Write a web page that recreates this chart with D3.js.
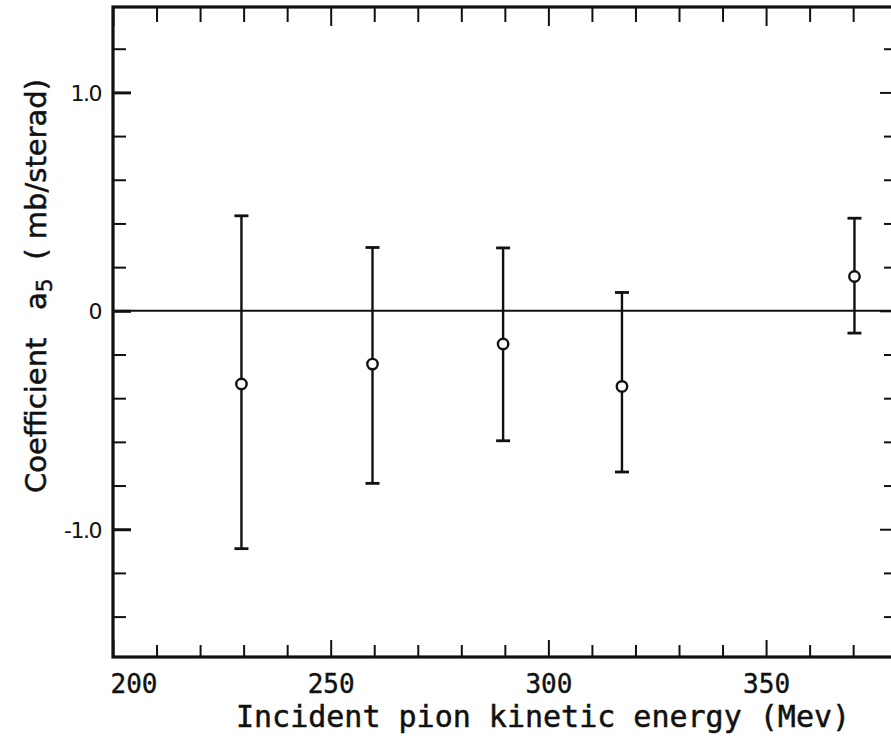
<!DOCTYPE html>
<html>
<head>
<meta charset="utf-8">
<script src="https://cdn.jsdelivr.net/npm/d3@7"></script>
<style>
  html, body { margin: 0; padding: 0; background: #fff; }
  svg { display: block; }
  text { fill: #111; }
</style>
</head>
<body>
<svg id="chart" width="891" height="741"></svg>
<script>
// ---- data ----
const energies = [229.5, 259.6, 289.6, 316.9, 370.3];
const coeffs   = [-0.335, -0.244, -0.152, -0.346, 0.157];
const errHigh  = [0.435, 0.290, 0.288, 0.084, 0.424];
const errLow   = [-1.089, -0.790, -0.595, -0.738, -0.102];

const xMajorTicks = [200, 250, 300, 350];
const xTickLabels = ["200", "250", "300", "350"];
const yMajorTicks = [-1, 0, 1];
const yTickLabels = ["-1.0", "0", "1.0"];
const xMinorTicks = d3.range(200, 381, 10);
const yMinorTicks = [-1.4, -1.2, -1.0, -0.8, -0.6, -0.4, -0.2, 0, 0.2, 0.4, 0.6, 0.8, 1.0, 1.2];

const xTitle = "Incident pion kinetic energy (Mev)";

// ---- layout ----
const svg = d3.select("#chart");
const pL = 113, pR = 898, pT = 7, pB = 657;
const x = d3.scaleLinear().domain([200, 380.3]).range([pL, pR]);
const y = d3.scaleLinear().domain([-1.585, 1.391]).range([pB, pT]);
const ink = "#111";

// frame
svg.append("rect").attr("x", pL).attr("y", pT)
  .attr("width", pR - pL).attr("height", pB - pT)
  .attr("fill", "none").attr("stroke", ink).attr("stroke-width", 3.2);

// zero line
svg.append("line").attr("x1", pL).attr("x2", pR)
  .attr("y1", y(0)).attr("y2", y(0))
  .attr("stroke", ink).attr("stroke-width", 2);

const isMajorX = v => v % 50 === 0;
const isMajorY = v => Math.abs(v - Math.round(v)) < 1e-6;

// bottom axis ticks (inward)
const gB = svg.append("g").attr("transform", `translate(0,${pB})`)
  .call(d3.axisBottom(x).tickValues(xMinorTicks).tickSizeInner(0).tickSizeOuter(0).tickFormat(""));
gB.select(".domain").remove();
gB.selectAll(".tick line").attr("y2", d => isMajorX(d) ? -17 : -12).attr("stroke", ink).attr("stroke-width", 2);

// top axis ticks (inward)
const gT = svg.append("g").attr("transform", `translate(0,${pT})`)
  .call(d3.axisTop(x).tickValues(xMinorTicks).tickSizeInner(0).tickSizeOuter(0).tickFormat(""));
gT.select(".domain").remove();
gT.selectAll(".tick line").attr("y2", d => isMajorX(d) ? 19 : 15).attr("stroke", ink).attr("stroke-width", 2);

// left axis ticks (inward)
const gL = svg.append("g").attr("transform", `translate(${pL},0)`)
  .call(d3.axisLeft(y).tickValues(yMinorTicks).tickSizeInner(0).tickSizeOuter(0).tickFormat(""));
gL.select(".domain").remove();
gL.selectAll(".tick line").attr("x2", d => isMajorY(d) ? 18 : 13).attr("stroke", ink).attr("stroke-width", d => isMajorY(d) ? 3 : 2);

// right axis ticks (inward)
const gR = svg.append("g").attr("transform", `translate(${pR},0)`)
  .call(d3.axisRight(y).tickValues(yMinorTicks).tickSizeInner(0).tickSizeOuter(0).tickFormat(""));
gR.select(".domain").remove();
gR.selectAll(".tick line").attr("x2", d => isMajorY(d) ? -18 : -14).attr("stroke", ink).attr("stroke-width", 2);

// x tick labels
const gXL = svg.append("g").attr("transform", `translate(0,${pB})`)
  .call(d3.axisBottom(x).tickValues(xMajorTicks).tickSize(0)
    .tickFormat((d, i) => xTickLabels[i]));
gXL.select(".domain").remove();
gXL.selectAll(".tick text")
  .attr("font-family", "'DejaVu Sans Mono', monospace")
  .attr("font-size", 26).attr("dy", 0).attr("y", 36)
  .attr("text-anchor", (d, i) => i === 0 ? "start" : "middle")
  .attr("dx", (d, i) => i === 0 ? -3 : 0)
  .attr("stroke", ink).attr("stroke-width", 0.4)
  .style("fill", ink);

// y tick labels
const gYL = svg.append("g").attr("transform", `translate(${pL},0)`)
  .call(d3.axisLeft(y).tickValues(yMajorTicks).tickSize(0)
    .tickFormat((d, i) => yTickLabels[i]));
gYL.select(".domain").remove();
gYL.selectAll(".tick text")
  .attr("font-family", "'DejaVu Sans', sans-serif")
  .attr("font-size", 22).attr("x", -12).attr("dy", "0.36em")
  .attr("letter-spacing", -1.5)
  .style("fill", ink);

// error bars
const capW = 7;
const pts = energies.map((e, i) => ({e, v: coeffs[i], hi: errHigh[i], lo: errLow[i]}));
const gE = svg.append("g").attr("stroke", ink).attr("stroke-width", 2.4);
gE.selectAll("line.v").data(pts).join("line").attr("class", "v")
  .attr("x1", d => x(d.e)).attr("x2", d => x(d.e))
  .attr("y1", d => y(d.hi)).attr("y2", d => y(d.lo));
gE.selectAll("line.t").data(pts).join("line").attr("class", "t")
  .attr("x1", d => x(d.e) - capW).attr("x2", d => x(d.e) + capW)
  .attr("y1", d => y(d.hi)).attr("y2", d => y(d.hi)).attr("stroke-width", 2.8);
gE.selectAll("line.b").data(pts).join("line").attr("class", "b")
  .attr("x1", d => x(d.e) - capW).attr("x2", d => x(d.e) + capW)
  .attr("y1", d => y(d.lo)).attr("y2", d => y(d.lo)).attr("stroke-width", 2.8);

// points
svg.append("g").selectAll("circle").data(pts).join("circle")
  .attr("cx", d => x(d.e)).attr("cy", d => y(d.v)).attr("r", 5.2)
  .attr("fill", "#fff").attr("stroke", ink).attr("stroke-width", 2.4);

// x title
svg.append("text")
  .attr("x", 236).attr("y", 727)
  .attr("font-family", "'DejaVu Sans Mono', monospace")
  .attr("font-size", 30)
  .attr("stroke", ink).attr("stroke-width", 0.5)
  .style("white-space", "pre")
  .style("fill", ink)
  .text(xTitle);

// y title
const yT = svg.append("text")
  .attr("transform", "translate(46,286) rotate(-90)")
  .attr("text-anchor", "middle")
  .attr("font-family", "'DejaVu Sans', sans-serif")
  .attr("font-size", 29)
  .attr("stroke", ink).attr("stroke-width", 0.5)
  .style("white-space", "pre")
  .style("fill", ink);
yT.append("tspan").text("Coefficient   a");
yT.append("tspan").attr("dy", 6).attr("font-size", 22).text("5");
yT.append("tspan").attr("dy", -6).text("  ( mb/sterad)");
</script>
</body>
</html>
